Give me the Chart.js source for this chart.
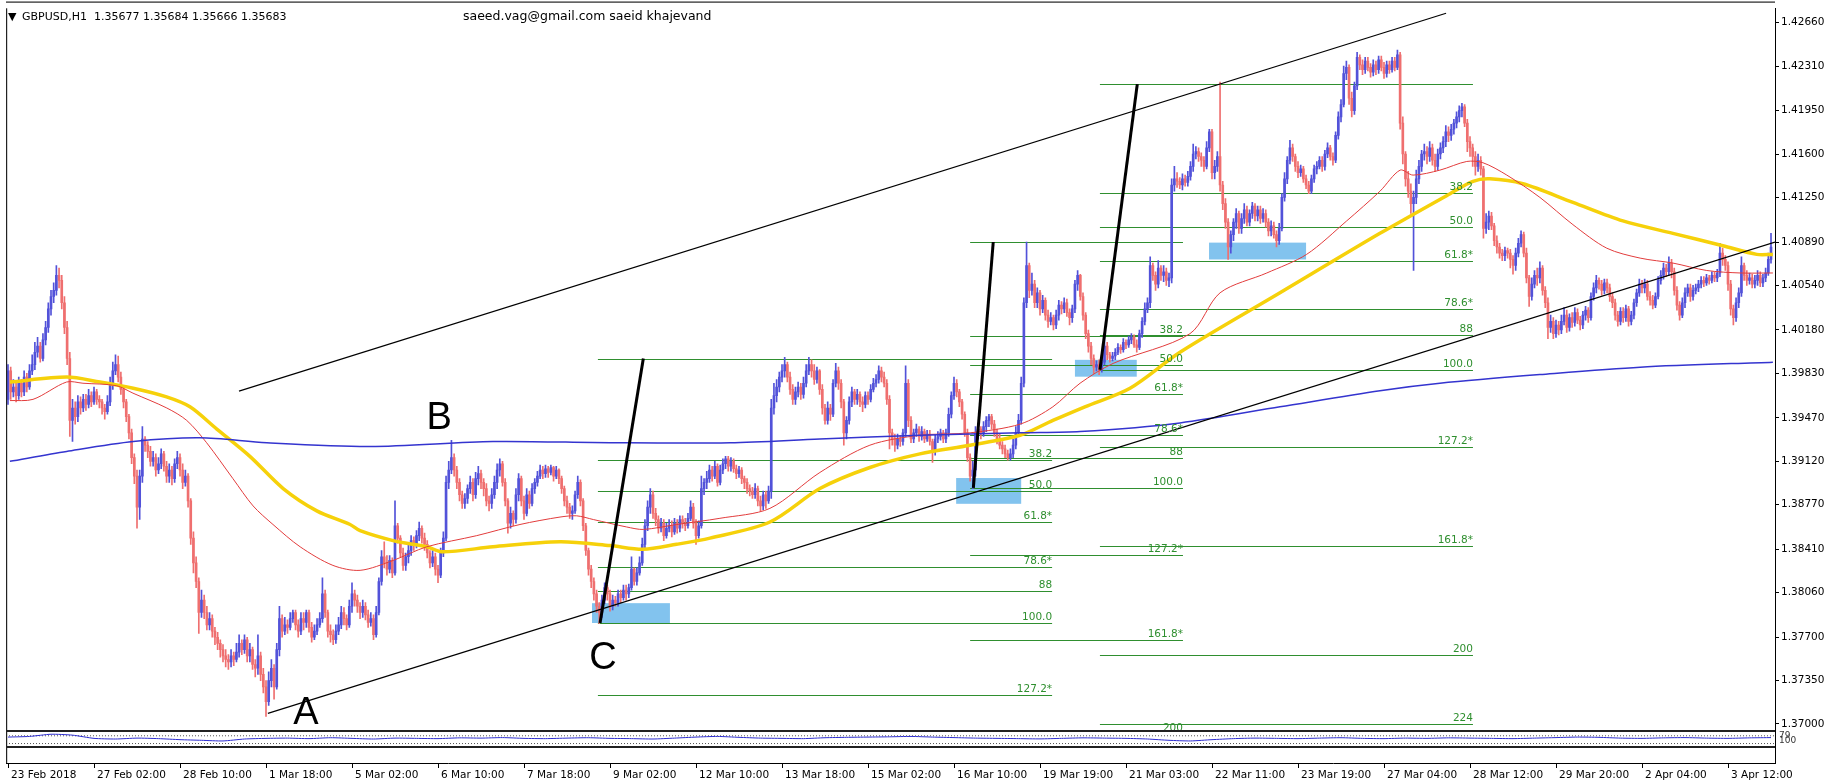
<!DOCTYPE html>
<html><head><meta charset="utf-8">
<script src="https://cdn.jsdelivr.net/npm/chart.js@4.4.0/dist/chart.umd.min.js"></script>
<style>html,body{margin:0;padding:0;background:#fff;overflow:hidden}#wrap{width:1829px;height:782px;position:relative}</style>
</head><body><div id="wrap"><canvas id="c" width="1829" height="782"></canvas></div>
<script>
// ---- DATA (prices in pips above 1.30000, one value per H1 bar) ----
const FIRST_OPEN = 962;
const closePips = [
985,968,972,965,975,968,980,972,985,990, 1000,1005,995,1010,1020,1035,1045,1050,1062,1058,
1040,1020,995,945,955,948,960,955,962,958, 965,960,968,962,960,955,952,960,975,985,
990,980,970,960,948,935,915,900,875,900, 930,925,920,912,915,905,910,918,908,900,
905,898,910,915,905,895,900,880,850,830, 815,790,800,790,780,785,775,770,765,760,
755,752,750,755,752,758,765,760,768,755, 760,748,745,755,740,730,718,735,745,730,
760,785,775,780,778,785,790,780,775,785, 782,790,778,770,775,780,785,805,790,775,
772,768,775,780,790,785,780,795,805,800, 795,790,795,788,782,785,772,790,815,835,
830,825,832,822,860,850,838,828,835,840, 848,845,852,858,850,845,838,830,835,825,
820,838,850,895,905,915,905,895,885,878, 882,890,895,885,898,902,895,890,880,878,
885,895,905,910,895,880,862,870,865,885, 898,880,870,885,878,890,895,900,905,902,
906,903,907,900,905,898,890,880,875,870, 872,885,895,880,860,840,825,815,805,795,
790,800,810,805,795,800,798,805,802,808, 805,810,825,815,822,830,845,860,875,885,
870,865,858,862,852,858,860,855,862,858, 865,862,860,866,875,862,852,860,890,895,
898,905,900,908,895,905,910,914,908,912, 906,902,905,898,895,890,888,885,890,880,
876,885,880,888,955,965,972,980,985,990, 980,970,962,968,972,966,975,985,990,985,
978,985,970,955,945,955,950,975,985,975, 960,935,945,960,968,962,966,960,958,965,
962,970,975,978,985,980,975,962,935,930, 925,930,928,935,975,945,930,935,938,932,
936,930,934,928,920,930,932,935,930,935, 950,965,975,968,960,950,935,915,900,905,
935,938,935,940,945,948,942,935,930,925, 922,918,915,918,925,935,945,975,1040,1070,
1050,1055,1040,1048,1035,1042,1030,1025,1028,1022, 1030,1038,1035,1040,1032,1028,1035,1055,1062,1045,
1030,1015,1005,995,988,990,986,992,1005,998, 995,997,1000,1004,1002,1008,1006,1010,1012,1006,
1004,1015,1025,1035,1040,1070,1062,1055,1068,1062, 1065,1058,1060,1135,1140,1138,1135,1140,1137,1142,
1150,1160,1162,1158,1155,1150,1165,1178,1145,1150, 1158,1135,1120,1105,1085,1095,1105,1112,1100,1108,
1115,1105,1112,1118,1110,1115,1108,1112,1105,1098, 1102,1095,1090,1100,1125,1140,1155,1165,1158,1150,
1145,1148,1140,1135,1130,1140,1148,1150,1155,1150, 1160,1165,1158,1155,1175,1190,1200,1225,1230,1205,
1195,1215,1238,1232,1228,1235,1230,1226,1232,1228, 1236,1230,1225,1232,1228,1235,1230,1240,1185,1160,
1140,1130,1120,1125,1140,1150,1160,1162,1158,1165, 1155,1150,1160,1165,1170,1178,1175,1180,1185,1190,
1195,1198,1185,1170,1165,1158,1150,1155,1148,1100, 1105,1110,1102,1090,1085,1080,1078,1082,1080,1075,
1070,1080,1088,1095,1080,1060,1045,1055,1062,1060, 1068,1050,1040,1020,1025,1015,1022,1018,1025,1030,
1020,1028,1024,1032,1026,1022,1030,1034,1028,1045, 1052,1058,1055,1050,1056,1052,1045,1040,1030,1025,
1033,1028,1035,1025,1030,1040,1048,1055,1052,1055, 1045,1042,1038,1045,1058,1062,1068,1065,1072,1065,
1050,1038,1030,1040,1048,1052,1045,1050,1052,1055, 1058,1056,1060,1058,1062,1060,1064,1080,1075,1070,
1055,1035,1028,1040,1048,1070,1062,1058,1060,1055, 1058,1062,1056,1060,1064,1075,1085];
const highPips = [
990,988,978,975,980,978,985,983,990,998, 1008,1012,1008,1015,1025,1040,1050,1056,1070,1068,
1062,1045,1025,1000,962,960,965,964,966,966, 970,968,972,970,965,962,958,965,980,992,
998,997,984,973,962,950,938,918,905,905, 940,932,928,924,920,918,915,922,920,912,
910,908,914,920,918,910,905,902,882,855, 835,818,808,804,795,790,788,778,774,768,
764,760,756,760,758,765,772,768,772,770, 765,762,752,772,758,745,735,742,752,748,
765,795,788,786,784,790,792,792,784,790, 790,792,792,782,780,785,790,818,808,792,
780,776,780,786,795,794,788,800,814,808, 804,798,800,798,792,790,788,795,818,840,
847,836,836,834,880,862,852,842,838,845, 852,851,856,863,860,854,848,840,840,838,
828,842,855,900,912,929,918,908,898,888, 886,893,900,898,903,908,905,898,894,884,
890,900,910,914,912,898,882,875,872,890, 902,900,884,890,888,894,898,904,909,908,
909,908,909,908,908,906,900,892,884,878, 876,888,900,897,882,862,842,828,818,808,
798,804,814,812,808,804,803,808,808,812, 812,813,835,826,826,835,850,865,880,890,
888,874,868,866,865,862,865,864,866,865, 868,868,866,870,880,878,865,864,900,898,
904,909,908,912,910,909,914,916,916,915, 914,909,908,907,900,898,893,891,894,892,
884,888,888,892,962,975,978,984,990,996, 992,984,974,972,976,975,980,990,996,994,
990,988,986,974,958,960,958,978,991,988, 978,962,948,964,972,970,970,968,964,968,
968,974,979,982,989,988,984,978,965,938, 934,934,933,938,989,978,948,938,942,940,
940,938,937,937,930,933,936,938,937,938, 955,968,980,978,970,962,952,938,918,912,
940,942,940,944,948,950,950,945,938,934, 928,925,921,922,930,940,950,980,1044,1089,
1072,1064,1058,1052,1050,1046,1044,1034,1032,1030, 1034,1042,1041,1044,1043,1035,1038,1058,1066,1063,
1048,1032,1018,1008,998,993,994,996,1012,1008, 1000,1000,1003,1007,1006,1011,1010,1013,1015,1014,
1010,1018,1028,1040,1044,1077,1072,1065,1074,1070, 1070,1068,1064,1140,1150,1145,1141,1144,1143,1146,
1154,1168,1166,1165,1161,1158,1170,1180,1180,1155, 1162,1218,1138,1124,1108,1098,1108,1116,1114,1112,
1120,1118,1115,1121,1120,1118,1118,1116,1115,1108, 1106,1105,1098,1104,1128,1145,1158,1171,1168,1160,
1154,1151,1150,1143,1138,1143,1151,1154,1158,1158, 1163,1169,1167,1161,1178,1194,1204,1231,1235,1232,
1210,1218,1242,1240,1236,1238,1238,1233,1236,1235, 1239,1239,1234,1235,1235,1238,1238,1244,1242,1190,
1162,1146,1136,1130,1147,1155,1163,1168,1166,1170, 1168,1160,1164,1169,1174,1183,1182,1184,1188,1194,
1199,1201,1200,1188,1174,1168,1162,1160,1158,1150, 1112,1114,1113,1104,1094,1088,1083,1085,1084,1083,
1078,1084,1092,1098,1097,1084,1062,1060,1066,1068, 1073,1070,1053,1044,1030,1028,1026,1025,1030,1036,
1034,1031,1032,1036,1035,1029,1033,1037,1036,1048, 1056,1062,1060,1058,1059,1059,1055,1048,1043,1033,
1036,1036,1038,1037,1033,1043,1051,1059,1058,1059, 1058,1049,1046,1048,1061,1066,1072,1071,1077,1075,
1068,1053,1041,1044,1052,1055,1055,1054,1055,1058, 1061,1061,1063,1062,1065,1065,1067,1088,1084,1078,
1073,1058,1038,1044,1052,1077,1072,1066,1064,1063, 1062,1066,1065,1063,1068,1080,1096];
const lowPips = [
958,962,964,960,962,964,965,968,970,982, 986,996,992,993,1006,1016,1030,1040,1046,1052,
1035,1015,990,932,928,942,944,950,952,953, 955,956,958,958,955,950,946,950,957,970,
982,976,966,955,944,930,910,894,858,865, 895,920,915,908,908,900,902,906,904,895,
895,893,895,906,900,890,892,875,845,822, 810,773,786,785,776,776,770,764,760,754,
750,746,744,746,747,750,754,756,757,750, 750,744,738,740,735,725,706,715,730,720,
728,755,770,772,773,776,782,776,770,772, 776,778,774,766,768,772,778,782,786,770,
766,764,765,772,777,780,776,778,790,795, 790,785,786,784,778,779,768,770,788,812,
826,820,822,818,820,846,835,824,824,830, 836,840,842,848,846,840,834,826,827,820,
814,818,835,848,890,902,900,890,880,874, 874,878,886,880,882,893,890,884,876,872,
874,882,890,900,892,876,854,858,860,862, 880,876,865,868,874,876,886,892,898,898,
899,899,901,896,898,894,886,876,870,866, 865,870,882,876,856,836,820,810,800,790,
781,786,797,800,791,792,795,795,798,800, 800,802,808,812,812,820,828,842,856,870,
866,860,854,855,848,850,855,851,853,854, 855,858,856,858,864,858,845,850,858,885,
890,895,896,898,892,893,902,906,904,904, 903,898,899,894,890,886,884,882,882,876,
872,873,874,878,882,950,960,968,976,980, 976,966,958,958,964,962,963,972,982,980,
974,975,966,950,942,942,945,948,972,970, 955,925,930,942,956,958,958,956,952,955,
958,960,968,972,975,976,972,958,922,925, 920,922,924,925,932,940,927,927,932,928,
929,927,928,925,911,917,927,929,927,927, 932,947,962,964,956,946,932,912,896,890,
900,930,930,932,936,940,938,932,926,922, 918,915,913,913,915,922,932,942,972,1036,
1044,1046,1036,1036,1030,1032,1026,1020,1022,1018, 1019,1026,1031,1032,1029,1022,1024,1032,1050,1042,
1026,1011,1000,990,983,985,982,984,990,994, 992,993,994,998,999,1000,1003,1004,1007,1004,
1000,1002,1012,1022,1032,1036,1058,1050,1052,1058, 1057,1054,1053,1056,1130,1133,1132,1131,1134,1134,
1139,1146,1156,1154,1150,1146,1148,1162,1140,1140, 1146,1130,1115,1100,1075,1080,1090,1100,1096,1096,
1104,1102,1102,1108,1106,1106,1104,1105,1101,1094, 1094,1092,1085,1087,1098,1122,1136,1152,1154,1146,
1141,1142,1137,1132,1128,1128,1137,1144,1148,1146, 1147,1157,1155,1151,1153,1172,1186,1198,1220,1200,
1190,1192,1212,1228,1224,1225,1227,1222,1223,1224, 1225,1227,1221,1222,1225,1226,1227,1228,1180,1152,
1134,1125,1112,1066,1120,1136,1146,1155,1152,1154, 1151,1146,1147,1156,1161,1166,1170,1171,1176,1181,
1186,1190,1182,1162,1158,1150,1143,1146,1143,1092, 1096,1099,1099,1086,1080,1076,1074,1074,1076,1068,
1063,1066,1077,1085,1077,1056,1037,1042,1052,1054, 1056,1046,1036,1011,1016,1011,1012,1014,1015,1022,
1016,1017,1020,1021,1023,1018,1019,1026,1024,1026, 1042,1048,1051,1046,1047,1048,1041,1036,1026,1021,
1022,1024,1025,1021,1022,1027,1037,1045,1048,1048, 1042,1038,1035,1036,1043,1055,1059,1061,1062,1060,
1046,1034,1026,1028,1036,1045,1041,1042,1047,1049, 1052,1053,1054,1055,1056,1057,1057,1061,1070,1066,
1050,1030,1022,1025,1036,1045,1058,1054,1055,1052, 1052,1054,1053,1053,1057,1062,1072];

// Moving averages: [bar index, pips]
const maRed = [[0.7,961],[9.3,962],[21.8,976],[27.9,975],[40.4,973],[46.5,967],[59.1,955],[66.5,945],[73.9,927],[83.7,898],[91.2,876],[98.6,861],[108.7,843],[120.9,828],[131,824],[143.3,832],[155.8,843],[174.4,852],[190.5,861],[205.4,867],[211.6,868],[217.8,865],[230.2,859],[236.4,857],[248.8,861],[264.9,866],[283.5,874],[302.1,903],[320.7,925],[339.3,933],[358,935],[376.6,942],[388.8,956],[398.9,975],[411.2,991],[439.8,1015],[451,1048],[468.4,1064],[483.2,1079],[498.1,1106],[510.5,1130],[518,1147],[522.8,1143],[532.8,1147],[542.8,1154],[548.8,1153],[557.7,1143],[570,1125],[582.3,1103],[594.9,1084],[607.3,1076],[619.5,1072],[632.1,1066],[644.5,1064],[656.7,1064]];
const maYellow = [[0.7,976],[21.8,980],[34.2,976],[46.6,971],[59,964],[67.7,956],[77.7,938],[90,916],[102.4,890],[114.9,872],[127.3,861],[131,856],[143.3,848],[155.8,843],[161.9,839],[180.5,843],[205.4,847],[224,844],[236.3,841],[248.8,845],[261.2,850],[283.5,863],[302.1,890],[320.7,907],[339.3,918],[358,925],[376.6,933],[388.8,945],[400.7,956],[417.5,971],[436.1,1000],[473.3,1048],[510.5,1096],[536.6,1128],[545.1,1138],[551.4,1140],[563.7,1136],[582.3,1121],[600.9,1106],[619.5,1096],[638.1,1086],[650.7,1079],[656.7,1079]];
const maBlue = [[0.7,912],[21.8,920],[46.6,928],[71.4,931],[96.3,927],[134.7,924],[180.5,928],[224,927],[268.7,927],[302.1,930],[339.3,933],[376.6,935],[398.9,936],[436.1,943],[473.3,956],[510.5,969],[532.8,975],[570,982],[607.3,988],[656.7,992]];

// Oscillator in the sub-window, one value every 8 bars
const oscValues = [70,75,92,85,60,55,62,58,50,45,40,55,60,62,58,65,60,55,62,60,58,64,62,66,60,58,62,65,60,58,55,62,70,75,68,62,60,58,65,68,70,72,75,70,66,62,60,58,56,60,64,62,60,55,45,40,50,58,62,60,58,62,65,60,58,62,60,64,62,60,58,62,66,70,68,62,60,64,66,62,60,64,66];
const oscLevels = [80, 20];

// Axes
const timeTickBars = [0,32,64,96,128,160,192,224,256,288,320,352,384,416,448,480,512,544,576,608,640];
const timeTickLabels = ['23 Feb 2018','27 Feb 02:00','28 Feb 10:00','1 Mar 18:00','5 Mar 02:00','6 Mar 10:00','7 Mar 18:00','9 Mar 02:00','12 Mar 10:00','13 Mar 18:00','15 Mar 02:00','16 Mar 10:00','19 Mar 19:00','21 Mar 03:00','22 Mar 11:00','23 Mar 19:00','27 Mar 04:00','28 Mar 12:00','29 Mar 20:00','2 Apr 04:00','3 Apr 12:00'];
const priceTicks = [1.4266,1.4231,1.4195,1.4160,1.4125,1.4089,1.4054,1.4018,1.3983,1.3947,1.3912,1.3877,1.3841,1.3806,1.3770,1.3735,1.3700];
const priceTickLabels = ['1.42660','1.42310','1.41950','1.41600','1.41250','1.40890','1.40540','1.40180','1.39830','1.39470','1.39120','1.38770','1.38410','1.38060','1.37700','1.37350','1.37000'];

// Drawing objects (bar index, price)
const channelUpper = [[85.95,1.39686],[535.1,1.42736]];
const channelLower = [[96.7,1.37086],[657.5,1.40889]];
const fibStartBar = [219.5, 358.0, 406.3];
const fibEndBar = [388.5, 437.2, 545.1];
const fib0Price = [1.39949, 1.40890, 1.42164];
const fib100Price = [1.37814, 1.38905, 1.39859];
const fibTrendStartBar = [220.3, 359.2, 406.3];
const fibTrendEndBar = [236.4, 366.6, 420.2];
const fibLevels = [0, 38.2, 50, 61.8, 78.6, 88, 100, 127.2, 161.8, 200, 224];
const fibLevelLabels = ['', '38.2', '50.0', '61.8*', '78.6*', '88', '100.0', '127.2*', '161.8*', '200', '224'];
const zoneStartBar = [217.3, 352.8, 397.0, 446.9];
const zoneEndBar = [246.3, 377.0, 420.0, 483.0];
const zoneTopPrice = [1.37975, 1.38985, 1.39939, 1.40885];
const zoneBottomPrice = [1.37815, 1.38777, 1.39803, 1.40749];
const waveLetters = ['A', 'B', 'C'];
const waveBar = [110.9, 160.4, 221.4];
const wavePrice = [1.37094, 1.39474, 1.37535];
const headerSymbol = 'GBPUSD,H1  1.35677 1.35684 1.35666 1.35683';
const headerAuthor = 'saeed.vag@gmail.com saeid khajevand';
const oscScaleLabels = ['100', '79'];

// ---- BUILD ----
const toPrice = v => 1.3 + v / 10000;
const bars = closePips.map((c, i) => {
  const o = i === 0 ? FIRST_OPEN : closePips[i - 1];
  return { o: toPrice(o), c: toPrice(c), h: toPrice(Math.max(highPips[i], o, c)), l: toPrice(Math.min(lowPips[i], o, c)) };
});
const UP = '#5252d9', DOWN = '#ef6f6f';
const barColors = bars.map(b => b.c >= b.o ? UP : DOWN);
const MAIN_CLIP = {left: 0, top: 0, right: 0, bottom: -33};
const BAR_W = 2.6875;
const X_MIN = -2 / BAR_W, X_MAX = X_MIN + 1769 / BAR_W;
const Y_MAX = 1.427762, Y_MIN = 1.366850;
const OSC_MAX = 5715.4, OSC_MIN = -130.8;
const GREEN = '#2f8f2f';
const FONT = 'DejaVu Sans';

const maSet = (arr, color, w) => ({type: 'line', data: arr.map(p => ({x: p[0], y: toPrice(p[1])})), borderColor: color, borderWidth: w, pointRadius: 0, tension: 0.3, clip: MAIN_CLIP, order: 1});
const segSet = (pts, w) => ({type: 'line', data: pts.map(p => ({x: p[0], y: p[1]})), borderColor: '#000', borderWidth: w, pointRadius: 0, tension: 0, clip: MAIN_CLIP, order: 0});

const datasets = [
  {type: 'bar', data: bars.map((b, i) => ({x: i, y: [b.l, b.h]})), backgroundColor: barColors, barThickness: 1, grouped: false, borderWidth: 0, clip: MAIN_CLIP, order: 4},
  {type: 'bar', data: bars.map((b, i) => ({x: i, y: [Math.min(b.o, b.c), Math.max(b.o, b.c)]})), backgroundColor: barColors, barThickness: 2, minBarLength: 1, grouped: false, borderWidth: 0, clip: MAIN_CLIP, order: 3},
  maSet(maBlue, '#3434cf', 1.5),
  maSet(maRed, '#e23c3c', 1),
  maSet(maYellow, '#f6d10a', 3.5),
  segSet(channelUpper, 1.2),
  segSet(channelLower, 1.2),
];
for (let s = 0; s < 3; s++) {
  datasets.push(segSet([[fibTrendStartBar[s], fib100Price[s]], [fibTrendEndBar[s], fib0Price[s]]], 3));
}
datasets.push({type: 'line', yAxisID: 'yi', data: oscValues.map((v, i) => ({x: i * 8, y: v})), borderColor: '#2b2bd0', borderWidth: 1, pointRadius: 0, tension: 0.2, order: 2});
oscLevels.forEach(l => datasets.push({type: 'line', yAxisID: 'yi', data: [{x: X_MIN, y: l}, {x: X_MAX, y: l}], borderColor: '#555', borderWidth: 1, borderDash: [1, 2], pointRadius: 0, order: 2}));

const annotations = {
  id: 'annotations',
  beforeDatasetsDraw(chart) {
    const {ctx, chartArea: a, scales: {x, y}} = chart;
    ctx.save();
    ctx.beginPath(); ctx.rect(a.left, a.top, a.right - a.left, 730 - a.top); ctx.clip();
    ctx.fillStyle = '#82c3ee';
    zoneStartBar.forEach((sb, k) => {
      const x1 = x.getPixelForValue(sb), x2 = x.getPixelForValue(zoneEndBar[k]);
      const y1 = y.getPixelForValue(zoneTopPrice[k]), y2 = y.getPixelForValue(zoneBottomPrice[k]);
      ctx.fillRect(x1, y1, x2 - x1, y2 - y1);
    });
    ctx.strokeStyle = GREEN; ctx.lineWidth = 1;
    for (let s = 0; s < 3; s++) {
      const x1 = x.getPixelForValue(fibStartBar[s]), x2 = x.getPixelForValue(fibEndBar[s]);
      fibLevels.forEach(l => {
        const yy = Math.round(y.getPixelForValue(fib0Price[s] + (fib100Price[s] - fib0Price[s]) * l / 100)) + 0.5;
        ctx.beginPath(); ctx.moveTo(x1, yy); ctx.lineTo(x2, yy); ctx.stroke();
      });
    }
    ctx.restore();
  },
  afterDatasetsDraw(chart) {
    const {ctx, chartArea: a, scales: {x, y}} = chart;
    ctx.save();
    ctx.beginPath(); ctx.rect(a.left, a.top, a.right - a.left, 730 - a.top); ctx.clip();
    ctx.fillStyle = GREEN; ctx.font = '10.5px "' + FONT + '"'; ctx.textAlign = 'right'; ctx.textBaseline = 'alphabetic';
    for (let s = 0; s < 3; s++) {
      const x2 = x.getPixelForValue(fibEndBar[s]);
      fibLevels.forEach((l, k) => {
        if (!fibLevelLabels[k]) return;
        const yy = y.getPixelForValue(fib0Price[s] + (fib100Price[s] - fib0Price[s]) * l / 100);
        ctx.fillText(fibLevelLabels[k], x2, yy - 3);
      });
    }
    ctx.fillStyle = '#000'; ctx.font = '38px "Liberation Sans"'; ctx.textAlign = 'center'; ctx.textBaseline = 'middle';
    waveLetters.forEach((t, k) => ctx.fillText(t, x.getPixelForValue(waveBar[k]), y.getPixelForValue(wavePrice[k]) + 1));
    ctx.restore();
  },
  afterDraw(chart) {
    const {ctx, chartArea: a} = chart;
    ctx.save();
    ctx.fillStyle = '#222';
    ctx.fillRect(a.left, 1.5, a.right - a.left, 1.2);
    ctx.fillRect(a.left, a.top, 1.2, a.bottom - a.top);
    ctx.fillRect(a.left, 730, a.right - a.left, 2);
    ctx.fillRect(a.left, 746, a.right - a.left, 2);
    ctx.fillStyle = '#000';
    ctx.font = '11px "' + FONT + '"'; ctx.textBaseline = 'middle'; ctx.textAlign = 'left';
    ctx.fillText('\u25BC', 8, 17);
    ctx.fillText(headerSymbol, 22, 17);
    ctx.font = '12.5px "' + FONT + '"';
    ctx.fillText(headerAuthor, 463, 17);
    ctx.font = '9px "' + FONT + '"'; ctx.fillStyle = '#333';
    ctx.fillText(oscScaleLabels[0], a.right + 4, 741);
    ctx.fillText(oscScaleLabels[1], a.right + 4, 736);
    ctx.restore();
  }
};

Chart.defaults.font.family = FONT;
new Chart(document.getElementById('c'), {
  type: 'line',
  data: {datasets},
  options: {
    responsive: false, animation: false, devicePixelRatio: 1,
    layout: {padding: {left: 6, top: 3, right: 0, bottom: 0}},
    plugins: {legend: {display: false}, tooltip: {enabled: false}},
    scales: {
      x: {
        type: 'linear', min: X_MIN, max: X_MAX, offset: false,
        afterBuildTicks: s => { s.ticks = timeTickBars.map(v => ({value: v})); },
        afterFit: s => { s.height = 19; },
        ticks: {autoSkip: false, maxRotation: 0, minRotation: 0, align: 'start', labelOffset: 3, padding: 1, color: '#000', font: {size: 10.5},
          callback: (v, i) => timeTickLabels[i]},
        grid: {drawOnChartArea: false, drawTicks: true, tickLength: 5, color: '#000', offset: false},
        border: {display: true, color: '#000', width: 1}
      },
      y: {
        type: 'linear', position: 'right', min: Y_MIN, max: Y_MAX,
        afterBuildTicks: s => { s.ticks = priceTicks.map(v => ({value: v})); },
        afterFit: s => { s.width = 54; },
        ticks: {autoSkip: false, padding: 2, color: '#000', font: {size: 10.5}, callback: (v, i) => priceTickLabels[i]},
        grid: {drawOnChartArea: false, drawTicks: true, tickLength: 4, color: '#000'},
        border: {display: true, color: '#000', width: 1}
      },
      yi: {type: 'linear', display: false, min: OSC_MIN, max: OSC_MAX}
    }
  },
  plugins: [annotations]
});
</script></body></html>
